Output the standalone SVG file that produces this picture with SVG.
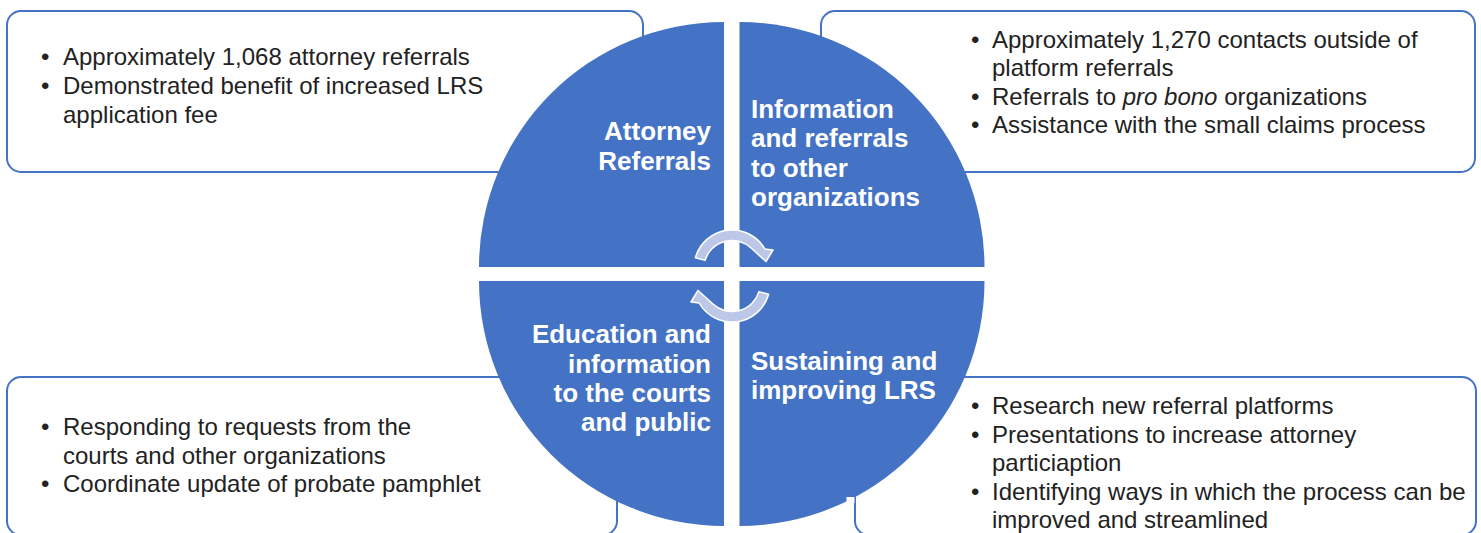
<svg xmlns="http://www.w3.org/2000/svg" width="1481" height="533" viewBox="0 0 1481 533">
<defs>
<style>
.box{fill:#FFFFFF;stroke:#4472C4;stroke-width:2}
.quad{fill:#4472C4}
.bt{font-family:"Liberation Sans",Arial,sans-serif;font-size:24px;fill:#222222}
.qt{font-family:"Liberation Sans",Arial,sans-serif;font-size:26px;font-weight:bold;fill:#FFFFFF}
.r{text-anchor:end}
.arrow{fill:#BDC7E7;stroke:#FFFFFF;stroke-width:1.5;stroke-linejoin:round}
</style>
</defs>
<rect width="1481" height="533" fill="#FFFFFF"/>

<g id="box-attorney">
<rect class="box" x="7" y="11" width="636" height="161" rx="14"/>
<text class="bt" x="41" y="65">•</text><text class="bt" x="63" y="65">Approximately 1,068 attorney referrals</text>
<text class="bt" x="41" y="94">•</text><text class="bt" x="63" y="94">Demonstrated benefit of increased LRS</text>
<text class="bt" x="63" y="123">application fee</text>
</g>

<g id="box-information">
<rect class="box" x="821" y="11" width="654" height="161" rx="14"/>
<text class="bt" x="971" y="47.5">•</text><text class="bt" x="992" y="47.5">Approximately 1,270 contacts outside of</text>
<text class="bt" x="992" y="76">platform referrals</text>
<text class="bt" x="971" y="104.5">•</text><text class="bt" x="992" y="104.5">Referrals to <tspan font-style="italic">pro bono</tspan> organizations</text>
<text class="bt" x="971" y="133">•</text><text class="bt" x="992" y="133">Assistance with the small claims process</text>
</g>

<g id="box-education">
<rect class="box" x="7" y="377" width="610" height="158" rx="14"/>
<text class="bt" x="41" y="435">•</text><text class="bt" x="63" y="435">Responding to requests from the</text>
<text class="bt" x="63" y="463.5">courts and other organizations</text>
<text class="bt" x="41" y="492">•</text><text class="bt" x="63" y="492">Coordinate update of probate pamphlet</text>
</g>

<g id="box-sustaining">
<rect class="box" x="855" y="377" width="621" height="158" rx="14"/>
<text class="bt" x="971" y="414">•</text><text class="bt" x="992" y="414">Research new referral platforms</text>
<text class="bt" x="971" y="442.5">•</text><text class="bt" x="992" y="442.5">Presentations to increase attorney</text>
<text class="bt" x="992" y="471">particiaption</text>
<text class="bt" x="971" y="499.5">•</text><text class="bt" x="992" y="499.5">Identifying ways in which the process can be</text>
<text class="bt" x="992" y="528">improved and streamlined</text>
</g>

<g id="quad-attorney">
<path class="quad" d="M724 267 L479 267 A245 245 0 0 1 724 22 Z"/>
<text class="qt r" x="711" y="140">Attorney</text>
<text class="qt r" x="711" y="170">Referrals</text>
</g>

<g id="quad-information">
<path class="quad" d="M739.5 267 L739.5 22 A245 245 0 0 1 984.5 267 Z"/>
<text class="qt" x="751" y="117.5">Information</text>
<text class="qt" x="751" y="147">and referrals</text>
<text class="qt" x="751" y="176.5">to other</text>
<text class="qt" x="751" y="206">organizations</text>
</g>

<g id="quad-education">
<path class="quad" d="M724 281 L724 526 A245 245 0 0 1 479 281 Z"/>
<text class="qt r" x="711" y="343">Education and</text>
<text class="qt r" x="711" y="373">information</text>
<text class="qt r" x="711" y="402">to the courts</text>
<text class="qt r" x="711" y="431">and public</text>
</g>

<g id="quad-sustaining">
<path class="quad" d="M739.5 281 L984.5 281 A245 245 0 0 1 739.5 526 Z"/>
<rect x="846.5" y="497" width="8" height="6" fill="#FFFFFF"/>
<text class="qt" x="751" y="370">Sustaining and</text>
<text class="qt" x="751" y="399">improving LRS</text>
</g>

<g id="connectors">
<path id="cycle-arrow" class="arrow" d="M695.4 257.7 A38 38 0 0 1 764.9 249 L773 250 L766 261.5 L751 248 A28 28 0 0 0 705.1 260.4 Z"/>
<path class="arrow" transform="rotate(180 732 276)" d="M695.4 257.7 A38 38 0 0 1 764.9 249 L773 250 L766 261.5 L751 248 A28 28 0 0 0 705.1 260.4 Z"/>
</g>
</svg>
